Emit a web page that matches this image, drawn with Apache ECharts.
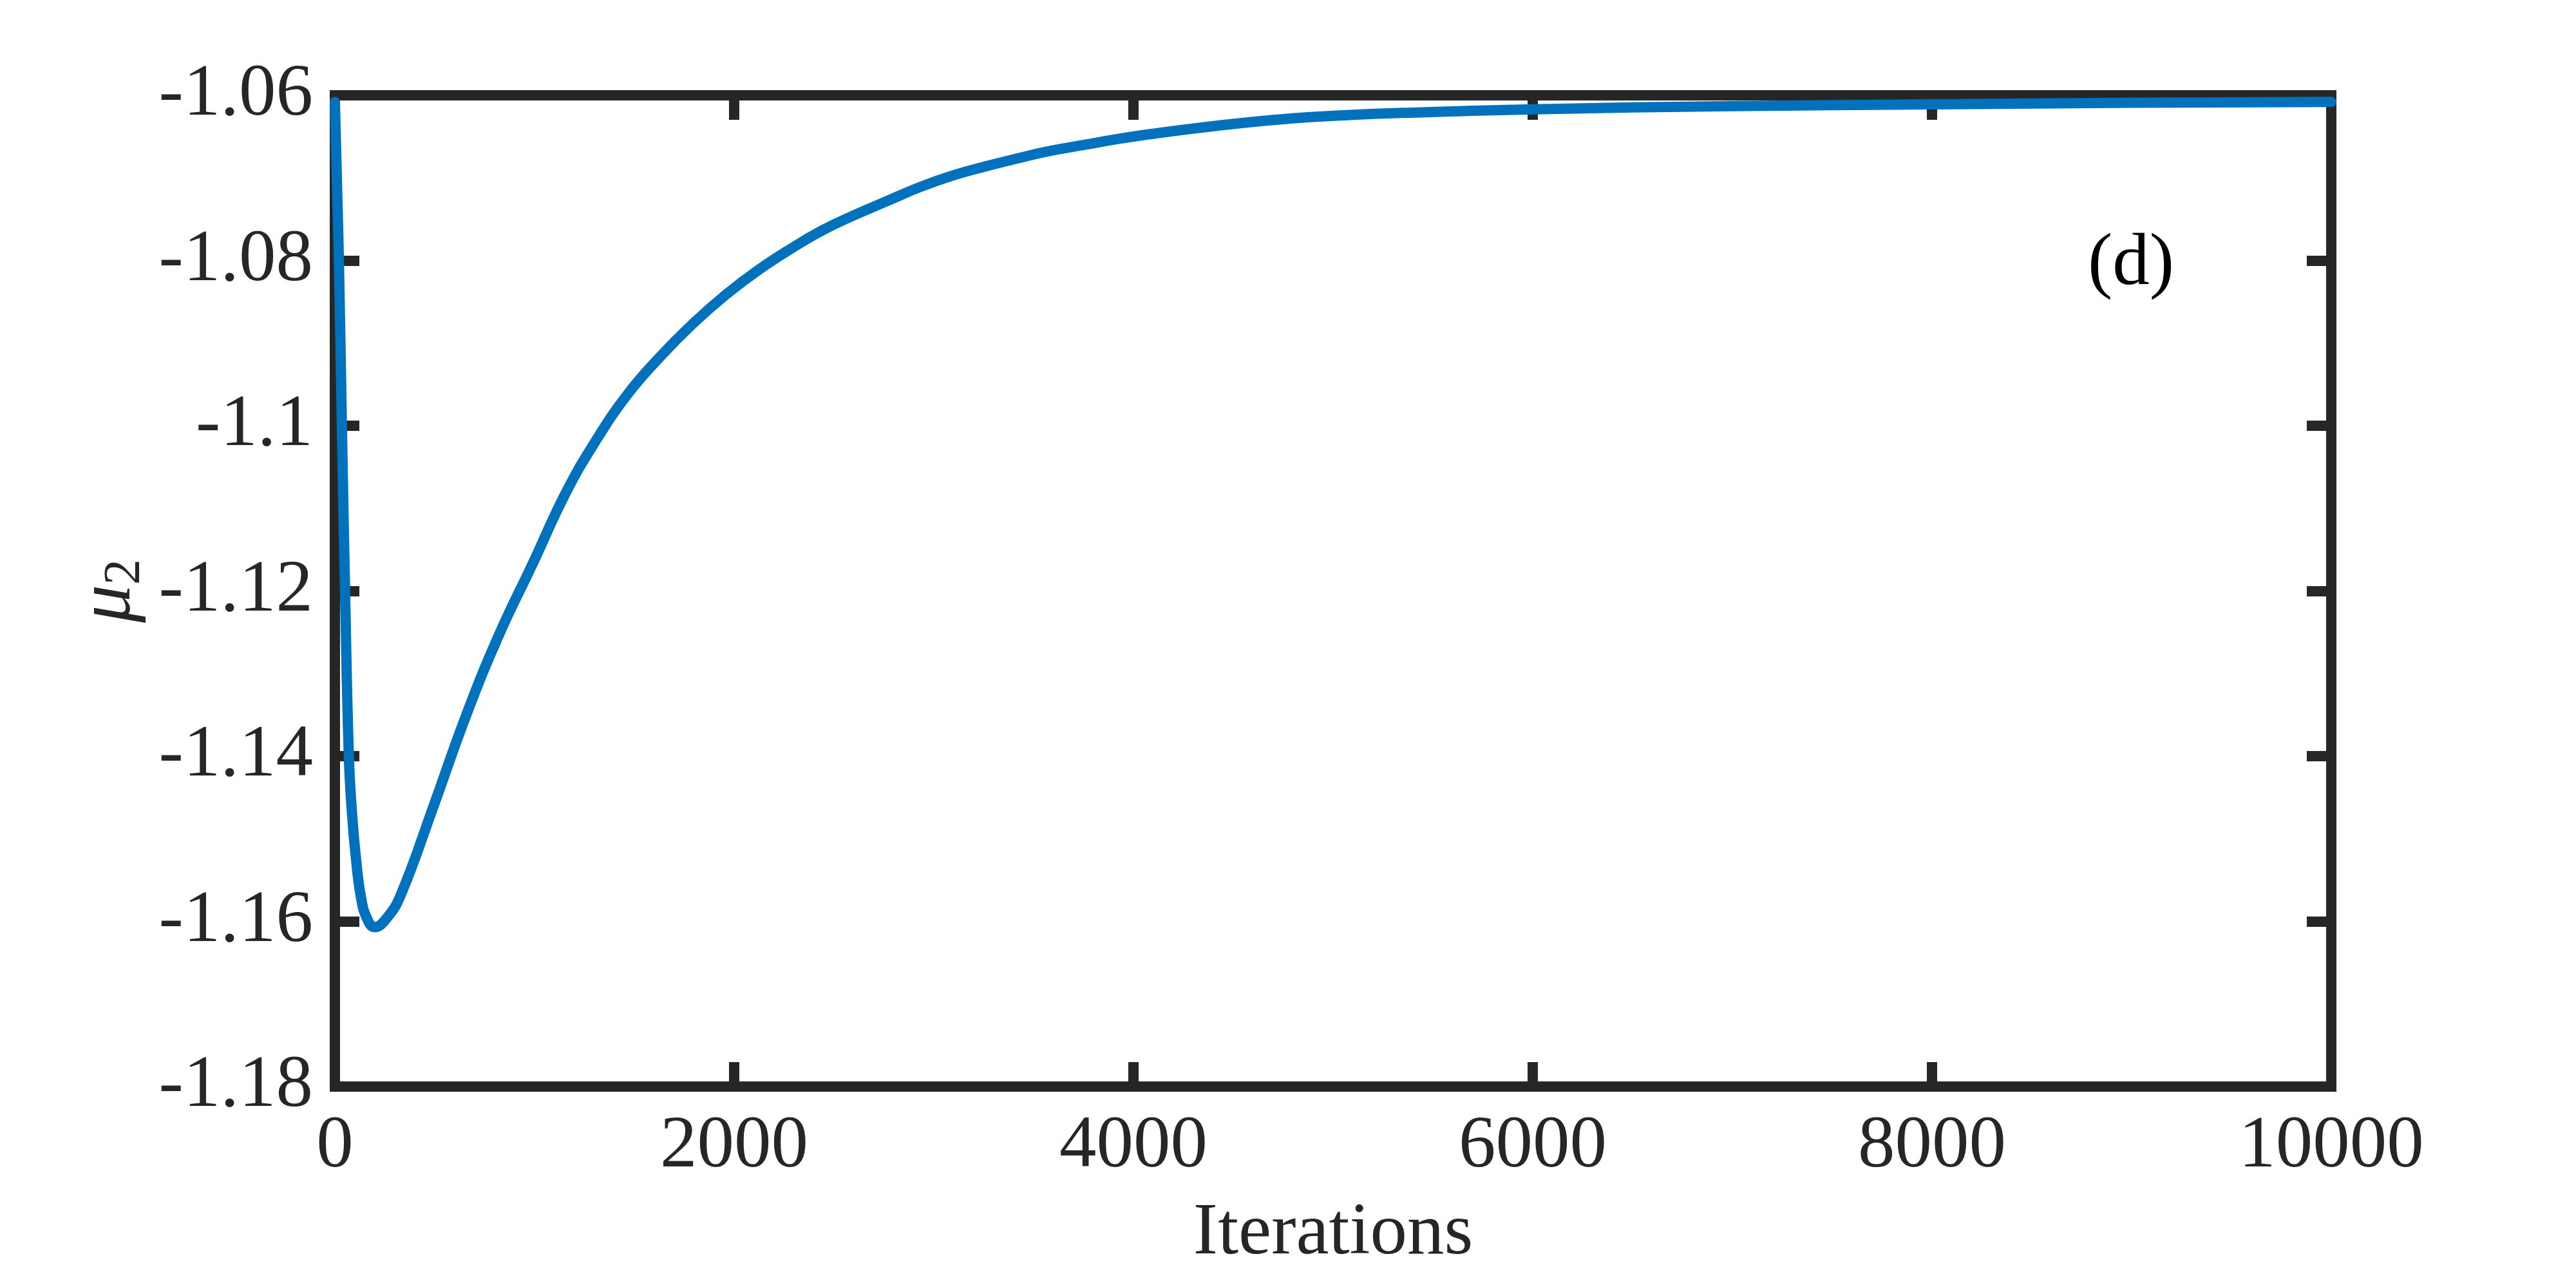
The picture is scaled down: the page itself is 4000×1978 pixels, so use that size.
<!DOCTYPE html>
<html>
<head>
<meta charset="utf-8">
<title>mu2 vs iterations</title>
<script src="https://cdn.jsdelivr.net/npm/echarts@6/dist/echarts.min.js"></script>
<style>
	html, body { margin: 0; padding: 0; background: #fff; }
	#chart { width: 4000px; height: 1978px; }
</style>
</head>
<body>
<div id="chart"></div>
<script>
// 数据：迭代次数 与 μ2
var iterations = [0, 20, 35, 51, 70, 86, 104, 130, 160, 199, 260, 330, 495, 660, 824, 989, 1153, 1302,
	1466, 1631, 1795, 1960, 2124, 2289, 2437, 2602, 2766, 2931, 3096, 3260, 3425, 3589, 3754, 3919,
	4083, 4412, 4741, 5070, 5387, 6000, 7000, 8000, 9000, 10000];
var mu2 = [-1.0608, -1.0800, -1.1000, -1.1200, -1.1400, -1.1470, -1.1520, -1.1570, -1.1596, -1.1607,
	-1.1596, -1.1568, -1.1460, -1.1349, -1.1252, -1.1168, -1.1083, -1.1020,
	-1.0962, -1.0916, -1.0876, -1.0841, -1.0811, -1.0785, -1.0764, -1.0745, -1.0728, -1.0711, -1.0697,
	-1.0686, -1.0676, -1.0667, -1.0660, -1.0653,
	-1.0647, -1.0637, -1.0629, -1.0624, -1.0621, -1.0617, -1.0613, -1.0611, -1.0609, -1.0608];
var xTicks = [0, 2000, 4000, 6000, 8000, 10000];
var yTicks = [-1.18, -1.16, -1.14, -1.12, -1.1, -1.08, -1.06];

var FONT = 'Liberation Serif';
var INK = '#262626';

var chart = echarts.init(document.getElementById('chart'));

var seriesData = iterations.map(function (it, i) { return [it, mu2[i]]; });

// 四边框 + 内向刻度
function xAxisCfg(pos, showLabel) {
	return {
		type: 'value',
		position: pos,
		min: xTicks[0],
		max: xTicks[xTicks.length - 1],
		interval: xTicks[1] - xTicks[0],
		axisLine: { show: true, onZero: false, lineStyle: { color: INK, width: 16, cap: 'square' } },
		axisTick: { show: true, inside: true, length: 38, lineStyle: { color: INK, width: 16 } },
		splitLine: { show: false },
		axisLabel: {
			show: showLabel, color: INK, fontFamily: FONT, fontSize: 115, lineHeight: 115, margin: 36,
			formatter: function (v) { return String(v); }
		},
		name: showLabel ? 'Iterations' : '',
		nameLocation: 'middle',
		nameGap: 171,
		nameTextStyle: { color: INK, fontFamily: FONT, fontSize: 115, lineHeight: 115 }
	};
}

function yAxisCfg(pos, showLabel) {
	return {
		type: 'value',
		position: pos,
		min: yTicks[0],
		max: yTicks[yTicks.length - 1],
		interval: 0.02,
		axisLine: { show: true, onZero: false, lineStyle: { color: INK, width: 16, cap: 'square' } },
		axisTick: { show: true, inside: true, length: 38, lineStyle: { color: INK, width: 16 } },
		splitLine: { show: false },
		axisLabel: {
			show: showLabel, color: INK, fontFamily: FONT, fontSize: 115, margin: 34,
			formatter: function (v) { return String(+v.toFixed(2)); }
		},
		name: showLabel ? '{m|μ}{s|2}' : '',
		nameLocation: 'middle',
		nameGap: 285,
		nameTextStyle: {
			color: INK,
			rich: {
				m: { fontFamily: FONT, fontStyle: 'italic', fontSize: 118, lineHeight: 130, color: INK },
				s: { fontFamily: FONT, fontSize: 80, lineHeight: 60, verticalAlign: 'bottom', color: INK }
			}
		}
	};
}

var option = {
	backgroundColor: '#ffffff',
	animation: false,
	grid: { left: 520, right: 380, top: 148, bottom: 291, containLabel: false },
	xAxis: [xAxisCfg('bottom', true), xAxisCfg('top', false)],
	yAxis: [yAxisCfg('left', true), yAxisCfg('right', false)],
	series: [
		{
			type: 'line',
			xAxisIndex: 0,
			yAxisIndex: 0,
			data: seriesData,
			showSymbol: false,
			smooth: 0.45,
			clip: false,
			z: 5,
			lineStyle: { color: '#0072BD', width: 16, cap: 'round', join: 'round' }
		}
	],
	graphic: [
		{
			type: 'text',
			x: 3309,
			y: 411,
			style: {
				text: '(d)',
				fontFamily: FONT,
				fontSize: 115,
				fill: '#000000',
				textAlign: 'center',
				textVerticalAlign: 'middle'
			}
		}
	]
};

chart.setOption(option);
</script>
</body>
</html>
